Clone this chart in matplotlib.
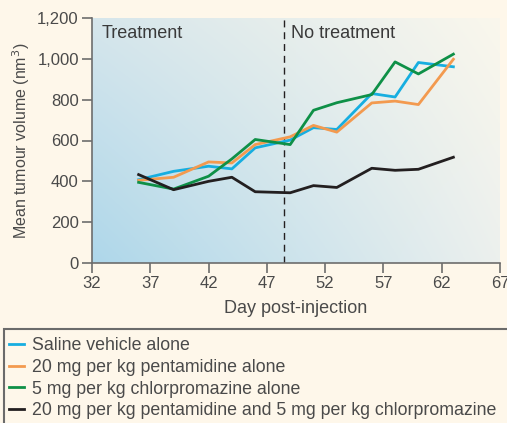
import numpy as np
import matplotlib.pyplot as plt
from matplotlib.patches import Rectangle

plt.rcParams['font.family'] = ['Liberation Sans', 'DejaVu Sans']

days = [36, 39, 42, 44, 46, 49, 51, 53, 56, 58, 60, 63]
saline = [408, 449, 474, 461, 564, 602, 663, 654, 830, 813, 982, 961]
pentamidine = [405, 420, 495, 490, 580, 618, 674, 641, 784, 793, 776, 998]
chlorpromazine = [395, 362, 425, 510, 605, 580, 748, 785, 825, 985, 926, 1023]
combined = [433, 359, 400, 420, 349, 344, 379, 370, 464, 454, 459, 518]

labels = ['Saline vehicle alone',
          '20 mg per kg pentamidine alone',
          '5 mg per kg chlorpromazine alone',
          '20 mg per kg pentamidine and 5 mg per kg chlorpromazine']
colors = ['#17aee0', '#f39a4f', '#0e9047', '#231f20']
xticks = [32, 37, 42, 47, 52, 57, 62, 67]
yticks = [0, 200, 400, 600, 800, 1000, 1200]

bg = '#fef7ea'
txt = '#4a4a4a'
axcol = '#6d6d6d'

fig = plt.figure(figsize=(5.07, 4.23), dpi=100, facecolor=bg)
ax = fig.add_axes([92 / 507, 1 - 263 / 423, 408 / 507, 245 / 423])

# background gradient (bilinear between corner colours)
tl = np.array([214, 230, 236]) / 255
tr = np.array([250, 247, 236]) / 255
bl = np.array([174, 215, 234]) / 255
br = np.array([236, 240, 238]) / 255
u = np.linspace(0, 1, 200)[None, :, None]
v = np.linspace(1, 0, 200)[:, None, None]
img = (1 - u) * v * tl + u * v * tr + (1 - u) * (1 - v) * bl + u * (1 - v) * br
ax.imshow(img, extent=[0, 1, 0, 1], transform=ax.transAxes, aspect='auto', zorder=0)

series = [saline, pentamidine, chlorpromazine, combined]
for vals, c, lab in zip(series, colors, labels):
    ax.plot(days, vals, color=c, lw=2.0, label=lab, zorder=3)

ax.axvline(48.5, color='#231f20', lw=1, ls=(0, (5, 3.5)), zorder=2)
ax.text(32.85, 1165, 'Treatment', fontsize=13, color='#3a3a3a', va='top', ha='left')
ax.text(49.1, 1165, 'No treatment', fontsize=13, color='#3a3a3a', va='top', ha='left')

ax.set_xlim(32, 67)
ax.set_ylim(0, 1200)
ax.set_xticks(xticks)
ax.set_yticks(yticks)
ax.set_yticklabels(['0', '200', '400', '600', '800', '1,000', '1,200'])
ax.tick_params(colors=axcol, labelcolor=txt, labelsize=12, length=7.5, width=1.2, pad=2)
for s in ['top', 'right']:
    ax.spines[s].set_visible(False)
for s in ['left', 'bottom']:
    ax.spines[s].set_color(axcol)
    ax.spines[s].set_linewidth(1.2)
ax.set_xlabel('Day post-injection', fontsize=13, color=txt, labelpad=6)
ax.set_ylabel('Mean tumour volume (nm$^3$)', fontsize=11.5, color=txt, labelpad=4)

# legend box running off the figure edge
fig.patches.append(Rectangle((4 / 507, -0.2), 1.2, 0.2 + 1 - 329 / 423, transform=fig.transFigure,
                             facecolor='none', edgecolor='#6b6b6b', lw=1.5, clip_on=False))
fig.legend(loc='upper left', bbox_to_anchor=(9 / 507, 1 - 337 / 423), frameon=False,
           fontsize=12.8, handlelength=0.85, handletextpad=0.45, labelspacing=0.27,
           borderpad=0, borderaxespad=0, labelcolor=txt)

fig.savefig('out.png', dpi=100, facecolor=bg)
